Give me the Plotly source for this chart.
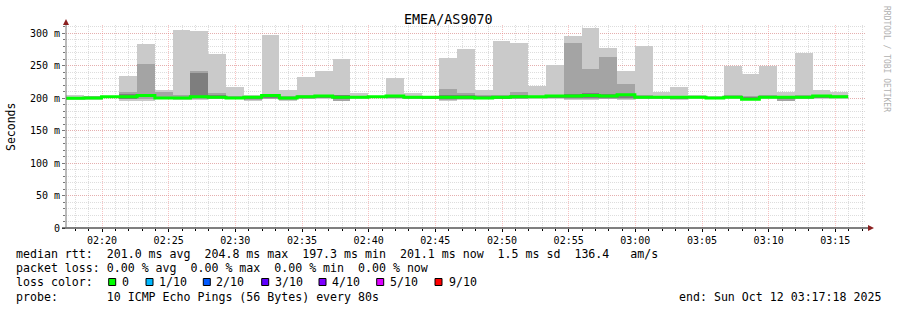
import plotly.graph_objects as go
import pandas as pd

TITLE = "EMEA/AS9070"
START = pd.Timestamp("2025-10-12 02:17:18")
END = pd.Timestamp("2025-10-12 03:17:18")
STEP_S = 80

# RTT values in ms per 80 s step (10 pings, sorted percentiles)
rtt_max = [205, 203, 203, 234, 283, 213, 305, 303, 268, 217, 205, 297, 212, 232, 241,
           260, 208, 203, 231, 208, 203, 262, 275, 212, 287, 285, 219, 251, 295, 308,
           277, 241, 280, 210, 217, 205, 203, 250, 237, 250, 210, 270, 212, 209]
rtt_p9 = [201.5, 203, 202.5, 209, 253, 210, 204, 241, 207, 203, 203, 205, 203, 204, 205,
          205, 203, 203, 205, 203, 202, 214, 207, 205, 205, 210, 203, 205, 285, 245,
          263, 221, 205, 203, 203, 203, 202, 204, 203, 205, 203, 204, 205, 204]
rtt_p8 = [201, 202, 202, 206, 206, 202, 202, 239, 205, 202, 202, 204, 202, 203, 204,
          204, 202, 202.5, 204, 202, 201.5, 205, 204, 203, 203, 205, 202.5, 204, 206, 207,
          206, 206, 203, 202, 202, 202, 201, 203, 201, 203, 202, 203, 204, 203]
rtt_median = [199.5, 200, 202, 202, 204, 200, 200, 202, 201, 200, 201, 204, 200, 202, 203,
              201, 201, 202, 203, 201, 201, 201, 201, 200, 201, 202, 202, 203, 203, 204,
              203, 205, 201, 201, 201, 201, 200, 201, 198, 201, 201, 201, 203, 202]
rtt_p3 = [199, 199, 201.5, 199, 201, 199.5, 199, 200, 200, 199, 199, 201, 198, 200, 201,
          198, 200, 201, 201, 200, 199.5, 199, 199, 199, 199, 200, 200, 201, 200, 200,
          200, 200, 200, 200, 199, 200, 199, 200, 197.5, 200, 198, 200, 201, 200.5]
rtt_p2 = [198.5, 198.5, 201, 198, 199, 199, 198, 199, 199, 198.5, 197, 199, 197, 199, 200,
          196, 199.5, 200.5, 200, 199, 199, 197, 198, 198.5, 198.5, 199, 199.5, 200, 198, 198,
          199, 198, 199, 199, 198, 199.5, 198.5, 199.5, 197, 199.5, 196, 199, 200, 199.5]
rtt_min = [197, 197, 201, 196, 195, 199, 197, 197, 198, 198, 196, 198, 196, 199, 199,
           195, 199, 200, 199, 198, 198, 196, 197, 198, 198, 198, 199, 199, 197, 197,
           198, 197, 198, 198, 197, 199, 198, 199, 197, 199, 195, 198, 199, 199]

Y_TICKS = [0, 50, 100, 150, 200, 250, 300]
Y_TICK_TEXT = ["0", "50 m", "100 m", "150 m", "200 m", "250 m", "300 m"]

LEGEND_LINES = [
    "median rtt:  201.0 ms avg  204.8 ms max  197.3 ms min  201.1 ms now  1.5 ms sd  136.4   am/s",
    "packet loss: 0.00 % avg  0.00 % max  0.00 % min  0.00 % now",
    "loss color:",
    "probe:       10 ICMP Echo Pings (56 Bytes) every 80s",
]
LOSS_LABELS = ["0", "1/10", "2/10", "3/10", "4/10", "5/10", "9/10"]
LOSS_COLORS = ["#00ff00", "#00b8ff", "#0059ff", "#5e00ff", "#7e00ff", "#dd00ff", "#ff0000"]
END_TEXT = "end: Sun Oct 12 03:17:18 2025"

# ---- geometry helpers (pixel -> paper) ----
W, H = 897, 310
PL, PR, PT, PB = 66, 866, 25, 228


def px(x):
    return (x - PL) / (PR - PL)


def py(y):
    return (PB - y) / (PB - PT)


MONO = "DejaVu Sans Mono"
times = pd.date_range(START, periods=len(rtt_median), freq=f"{STEP_S}s")
width_ms = STEP_S * 1000

fig = go.Figure()

bands = [
    (rtt_min, rtt_max, "#cacaca"),
    (rtt_p2, rtt_p9, "#a4a4a4"),
    (rtt_p3, rtt_p8, "#7e7e7e"),
]
for lo, hi, col in bands:
    fig.add_trace(go.Bar(
        x=times, y=[h - l for h, l in zip(hi, lo)], base=lo,
        width=width_ms, offset=0, marker=dict(color=col, line=dict(width=0)),
        showlegend=False, hoverinfo="skip"))

fig.add_trace(go.Scatter(
    x=list(times) + [times[-1] + pd.Timedelta(seconds=STEP_S)],
    y=list(rtt_median) + [rtt_median[-1]],
    mode="lines", line=dict(color="#00ff00", width=3, shape="hv"),
    showlegend=False, hoverinfo="skip"))

y_top = (PB - PT) / 0.65

MAJOR_GRID = "rgba(240,120,120,0.45)"
MINOR_GRID = "rgba(170,170,170,0.4)"

fig.update_layout(
    width=W, height=H,
    margin=dict(l=PL, r=W - PR, t=PT, b=H - PB),
    paper_bgcolor="white", plot_bgcolor="white",
    barmode="overlay", bargap=0,
    font=dict(family=MONO, size=10, color="#000"),
    xaxis=dict(
        type="date", range=[START, END], tickformat="%H:%M",
        tick0="2025-10-12 02:20:00", dtick=300000,
        showgrid=True, gridcolor=MAJOR_GRID, griddash="1px,1px", gridwidth=1,
        ticks="outside", ticklen=3, tickcolor="#000",
        minor=dict(dtick=60000, tick0="2025-10-12 02:20:00", showgrid=True,
                   gridcolor=MINOR_GRID, griddash="1px,1px",
                   ticks="outside", ticklen=2, tickcolor="#000"),
        showline=False, zeroline=False,
        tickfont=dict(family=MONO, size=10, color="#000"),
    ),
    yaxis=dict(
        range=[0, y_top], tickvals=Y_TICKS, ticktext=Y_TICK_TEXT,
        showgrid=True, gridcolor=MAJOR_GRID, griddash="1px,1px", gridwidth=1,
        ticks="outside", ticklen=3, tickcolor="#777",
        minor=dict(dtick=10, showgrid=True, gridcolor=MINOR_GRID,
                   griddash="1px,1px", ticks="outside", ticklen=2, tickcolor="#777"),
        showline=False, zeroline=False,
        tickfont=dict(family=MONO, size=10, color="#000"),
    ),
)

shapes = [
    # x axis line
    dict(type="line", xref="paper", yref="paper", x0=px(62), x1=px(869), y0=0, y1=0,
         line=dict(color="#000", width=1), layer="above"),
    # y axis line
    dict(type="line", xref="paper", yref="paper", x0=0, x1=0, y0=0, y1=py(23),
         line=dict(color="#777", width=1), layer="above"),
    # arrows
    dict(type="path", xref="paper", yref="paper",
         path=f"M {px(868)} {py(225)} L {px(874)} {py(228)} L {px(868)} {py(231)} Z",
         fillcolor="#8b2020", line=dict(width=0), layer="above"),
    dict(type="path", xref="paper", yref="paper",
         path=f"M {px(63)} {py(25)} L {px(66)} {py(19)} L {px(69)} {py(25)} Z",
         fillcolor="#8b2020", line=dict(width=0), layer="above"),
]

NB = "\u00a0"
annotations = [
    dict(text=TITLE, x=px(448.5), y=py(19), xref="paper", yref="paper",
         xanchor="center", yanchor="middle", showarrow=False,
         font=dict(family=MONO, size=13.4, color="#000")),
    dict(text="Seconds", x=px(11), y=py(127), xref="paper", yref="paper",
         xanchor="center", yanchor="middle", showarrow=False, textangle=-90,
         font=dict(family=MONO, size=11.5, color="#000")),
    dict(text="RRDTOOL / TOBI OETIKER", x=px(887), y=py(59), xref="paper", yref="paper",
         xanchor="center", yanchor="middle", showarrow=False, textangle=90,
         font=dict(family=MONO, size=8, color="#b0b0b0")),
]

line_y = [254, 268, 282, 296.5]
for txt, yy in zip(LEGEND_LINES, line_y):
    annotations.append(dict(text=txt.replace(" ", NB), x=px(13.5), y=py(yy),
                            xref="paper", yref="paper", xanchor="left", yanchor="middle",
                            showarrow=False, font=dict(family=MONO, size=11.6, color="#000")))

annotations.append(dict(text=END_TEXT.replace(" ", NB), x=px(883), y=py(296.5),
                        xref="paper", yref="paper", xanchor="right", yanchor="middle",
                        showarrow=False, font=dict(family=MONO, size=11.6, color="#000")))

box_left = [108.7, 146, 203.3, 261.7, 319, 376.7, 435]
label_left = [120, 157, 214, 273, 330, 388, 447]
for bl, ll, lab, col in zip(box_left, label_left, LOSS_LABELS, LOSS_COLORS):
    shapes.append(dict(type="rect", xref="paper", yref="paper",
                       x0=px(bl), x1=px(bl + 7), y0=py(278.5), y1=py(285.5),
                       fillcolor=col, line=dict(color="#000", width=1)))
    annotations.append(dict(text=lab, x=px(ll), y=py(282), xref="paper", yref="paper",
                            xanchor="left", yanchor="middle", showarrow=False,
                            font=dict(family=MONO, size=11.6, color="#000")))

fig.update_layout(shapes=shapes, annotations=annotations)
fig.write_html("out.html")
